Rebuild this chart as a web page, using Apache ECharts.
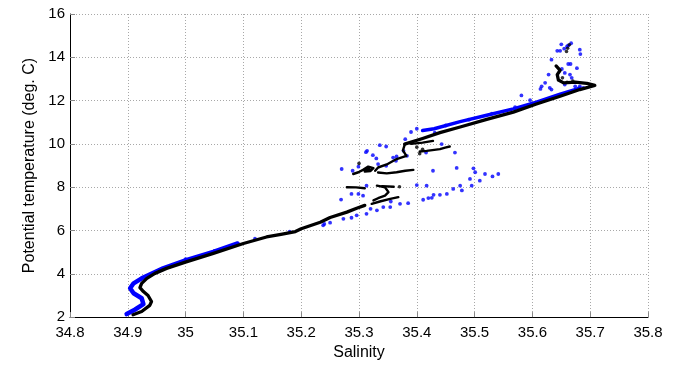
<!DOCTYPE html>
<html><head><meta charset="utf-8">
<script src="https://cdn.jsdelivr.net/npm/echarts@6/dist/echarts.min.js"></script>
<style>html,body{margin:0;padding:0;background:#fff}#c{width:682px;height:366px}</style>
</head><body><div id="c"></div>
<script>
// Axis ticks
var xTicks = [34.8, 34.9, 35, 35.1, 35.2, 35.3, 35.4, 35.5, 35.6, 35.7, 35.8];
var yTicks = [2, 4, 6, 8, 10, 12, 14, 16];

// Black profile: main trace (salinity, temperature)
var blackMainLow = [[34.909,2.11],[34.924,2.26],[34.938,2.54],[34.941,2.72],[34.935,3.0],[34.927,3.18],[34.921,3.36],[34.924,3.56],[34.933,3.79],[34.947,4.02],[34.967,4.25],[35.001,4.55],[35.048,4.94],[35.100,5.40],[35.140,5.70],[35.165,5.82],[35.190,5.95],[35.200,6.08],[35.233,6.38],[35.25,6.60],[35.279,6.85],[35.296,7.03],[35.31,7.16]];
var blackMainHigh = [[35.379,9.99],[35.41,10.25],[35.44,10.52],[35.475,10.78],[35.521,11.13],[35.567,11.47],[35.607,11.84],[35.648,12.20],[35.682,12.51],[35.708,12.70],[35.694,12.80],[35.674,12.85],[35.654,12.82],[35.645,12.95],[35.643,13.2],[35.648,13.4],[35.641,13.6]];
var blackRise = [[35.328,8.76],[35.333,8.91],[35.348,9.05],[35.365,9.30],[35.382,9.45],[35.376,9.70],[35.379,9.95]];
var blackSegA = [[35.279,8.0],[35.295,7.99],[35.310,7.95]];
var blackSegB = [[35.331,8.07],[35.345,8.0],[35.351,7.77],[35.345,7.61],[35.333,7.49],[35.325,7.39]];
var blackSegB2 = [[35.322,7.23],[35.336,7.34],[35.354,7.46],[35.368,7.54]];
var blackSegC = [[35.333,8.68],[35.348,8.64],[35.365,8.69],[35.38,8.76],[35.394,8.80]];
var blackBlob = [[35.290,8.61],[35.299,8.69],[35.307,8.80],[35.316,8.95],[35.325,8.88],[35.320,8.75],[35.310,8.72],[35.318,8.85]];
var blackSegE = [[35.405,9.65],[35.417,9.68],[35.44,9.76],[35.449,9.83],[35.457,9.88]];
var blackSegF = [[35.39,10.0],[35.41,10.06],[35.428,10.14]];
var blackSegG = [[35.340,8.05],[35.36,8.02]];
var blackDots = [[35.661,14.42],[35.664,14.58],[35.659,14.27],[35.652,13.05],[35.66,12.85],[35.67,12.9],[35.30,9.1],[35.37,8.02],[35.40,9.85],[35.405,9.55],[35.41,9.75]];

// Blue profile
var blueMainLow = [[34.898,2.14],[34.912,2.34],[34.927,2.60],[34.924,2.87],[34.910,3.10],[34.904,3.33],[34.910,3.56],[34.924,3.79],[34.938,3.97],[34.961,4.25],[35.001,4.63],[35.048,5.01],[35.09,5.40]];
var blueMainHigh = [[35.41,10.62],[35.43,10.70],[35.475,11.03],[35.521,11.32],[35.567,11.62],[35.607,11.93],[35.648,12.30],[35.682,12.57]];
var blueDots = [[35.270,8.84],[35.269,7.43],[35.289,8.76],[35.299,8.95],[35.314,9.68],[35.312,9.62],[35.324,9.48],[35.336,9.94],[35.347,9.88],[35.330,9.33],[35.333,9.07],[35.347,8.99],[35.359,9.37],[35.364,9.22],[35.365,9.42],[35.380,10.22],[35.377,9.68],[35.383,9.45],[35.299,7.69],[35.287,7.69],[35.307,7.61],[35.313,8.07],[35.331,6.93],[35.342,7.08],[35.354,7.08],[35.355,7.34],[35.371,7.23],[35.385,7.26],[35.400,8.10],[35.417,8.07],[35.411,7.42],[35.420,7.50],[35.426,7.51],[35.429,7.65],[35.440,7.65],[35.452,7.69],[35.463,7.92],[35.475,8.07],[35.478,7.85],[35.492,8.38],[35.495,8.07],[35.498,8.87],[35.501,8.69],[35.509,8.30],[35.518,8.61],[35.531,8.50],[35.541,8.61],[35.428,8.76],[35.469,8.89],[35.466,9.60],[35.443,9.99],[35.416,9.6],[35.431,10.52],[35.273,6.54],[35.287,6.59],[35.296,6.70],[35.313,6.77],[35.238,6.24],[35.250,6.36],[35.32,7.0],
[35.650,14.60],[35.655,14.40],[35.662,14.55],[35.667,14.65],[35.660,14.50],[35.643,14.30],[35.648,14.30],[35.682,14.35],[35.683,14.15],[35.633,13.89],[35.662,13.69],[35.666,13.69],[35.677,13.50],[35.651,13.46],[35.628,13.20],[35.656,13.28],[35.665,13.20],[35.622,12.82],[35.616,12.66],[35.614,12.54],[35.630,12.59],[35.633,12.51],[35.656,12.74],[35.668,13.05],[35.674,12.66],[35.682,12.66],[35.688,12.59],[35.581,12.24],[35.596,12.02],
[35.40,10.7],[35.39,10.55],[35.45,10.85],[35.49,11.12],[35.53,11.4],[35.57,11.7],[35.0,4.68],[35.05,5.06],[35.12,5.62],[35.18,5.95],[35.24,6.30]];

var font = 'Liberation Sans, Arial, Helvetica, sans-serif';
function lineSeries(d, color, w, z) {
  return {type:'line', data:d, showSymbol:false, symbol:'none', silent:true,
    lineStyle:{color:color, width:w, cap:'round', join:'round'}, z:z, animation:false};
}
var series = [];
series.push(lineSeries(blueMainLow, '#0000ff', 4.5, 2));
series.push(lineSeries(blueMainHigh, '#0000ff', 3.5, 2));
series.push({type:'scatter', data:blueDots, symbol:'circle', symbolSize:3.8, itemStyle:{color:'#0000ff'}, animation:false, z:3});
series.push(lineSeries(blackMainLow, '#000000', 3.3, 4));
series.push(lineSeries(blackMainHigh, '#000000', 3.3, 4));
[blackRise, blackSegA, blackSegB, blackSegB2, blackSegC, blackBlob, blackSegE, blackSegF, blackSegG].forEach(function(d){
  series.push(lineSeries(d, '#000000', 2.4, 4));
});
series.push({type:'scatter', data:blackDots, symbol:'circle', symbolSize:3.6, itemStyle:{color:'#000'}, animation:false, z:4});

var chart = echarts.init(document.getElementById('c'), null, {renderer:'canvas'});
chart.setOption({
  animation:false,
  grid:{left:70, right:34, top:14, bottom:47, containLabel:false},
  xAxis:{type:'value', min:xTicks[0], max:xTicks[xTicks.length-1], interval:0.1,
    name:'Salinity', nameLocation:'middle', nameGap:27,
    nameTextStyle:{fontFamily:font, fontSize:16, color:'#000'},
    axisLine:{show:true, onZero:false, lineStyle:{color:'#000', width:1}},
    axisTick:{show:true, inside:true, length:5, lineStyle:{color:'#888'}},
    axisLabel:{fontFamily:font, fontSize:15, color:'#000', margin:8, showMinLabel:true, showMaxLabel:true,
      formatter:function(v){ var r = Math.round(v*10)/10; return xTicks.indexOf(r)>=0 ? String(r) : ''; }},
    splitLine:{show:true, lineStyle:{color:'#a8a8a8', type:[1,2], width:1}}},
  yAxis:{type:'value', min:yTicks[0], max:yTicks[yTicks.length-1], interval:2,
    name:'Potential temperature (deg. C)', nameLocation:'middle', nameGap:32,
    nameTextStyle:{fontFamily:font, fontSize:16, color:'#000'},
    axisLine:{show:true, onZero:false, lineStyle:{color:'#000', width:1}},
    axisTick:{show:true, inside:true, length:5, lineStyle:{color:'#888'}},
    axisLabel:{fontFamily:font, fontSize:15, color:'#000', margin:5},
    splitLine:{show:true, lineStyle:{color:'#a8a8a8', type:[1,2], width:1}}},
  series:series
});
</script></body></html>
